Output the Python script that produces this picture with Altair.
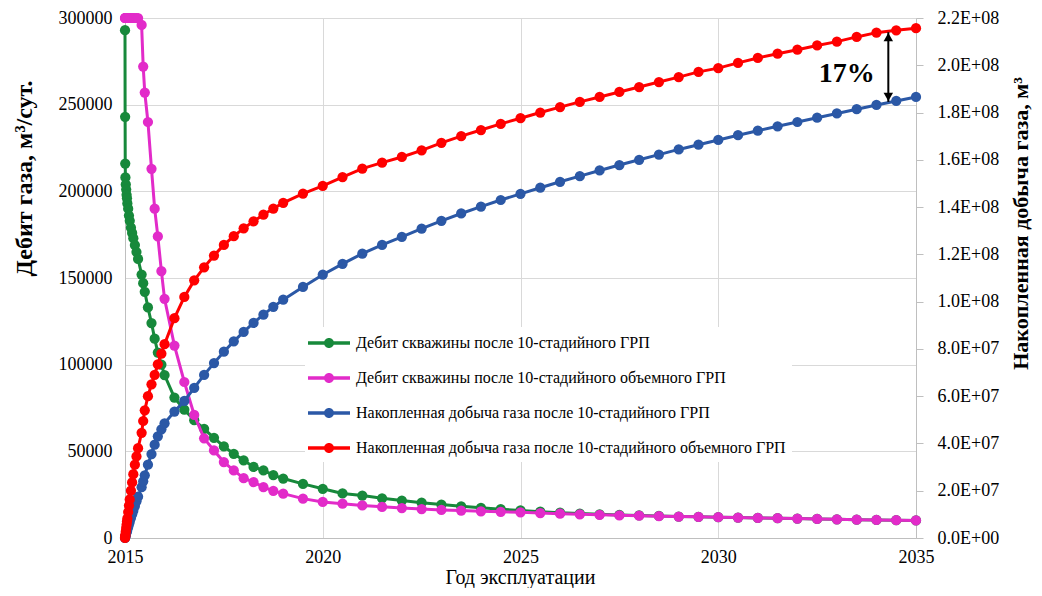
import altair as alt
import pandas as pd

# ---- data ----
T = [2015.000, 2015.003, 2015.006, 2015.01, 2015.02, 2015.03, 2015.04, 2015.05, 2015.06,
     2015.08, 2015.10, 2015.12, 2015.15, 2015.18, 2015.21, 2015.25, 2015.29, 2015.33,
     2015.42, 2015.46, 2015.50, 2015.58, 2015.67, 2015.75, 2015.83, 2015.92, 2016.00,
     2016.25, 2016.50, 2016.75, 2017.00, 2017.25, 2017.50, 2017.75, 2018.00, 2018.25,
     2018.50, 2018.75, 2019.00, 2019.5, 2020.0, 2020.5, 2021.0, 2021.5, 2022.0, 2022.5,
     2023.0, 2023.5, 2024.0, 2024.5, 2025.0, 2025.5, 2026.0, 2026.5, 2027.0, 2027.5,
     2028.0, 2028.5, 2029.0, 2029.5, 2030.0, 2030.5, 2031.0, 2031.5, 2032.0, 2032.5,
     2033.0, 2033.5, 2034.0, 2034.5, 2035.0]

RATE_10 = [293000, 243000, 216000, 208000, 204000, 201000, 198000, 196000, 193000,
           190000, 186000, 183000, 179000, 176000, 173000, 169000, 165000, 161000,
           152000, 147000, 142000, 133000, 124000, 115000, 107000, 100000, 94000,
           81000, 74000, 68000, 63000, 57800, 52800, 48600, 44800, 41000,
           39000, 36300, 34300, 31200, 28400, 25700, 24500, 22900, 21600, 20400,
           19300, 18300, 17400, 16600, 15900, 15200, 14600, 14100, 13700, 13300,
           13000, 12700, 12400, 12200, 12000, 11800, 11600, 11400, 11200, 11000,
           10800, 10600, 10400, 10300, 10100]

RATE_VOL = [300000, 300000, 300000, 300000, 300000, 300000, 300000, 300000, 300000,
            300000, 300000, 300000, 300000, 300000, 300000, 300000, 300000, 300000,
            296000, 272000, 257000, 240000, 213000, 190000, 174000, 154000, 138000,
            111000, 90000, 71000, 57500, 50500, 43800, 39000, 34500, 32300,
            29400, 27200, 25600, 22700, 20800, 19800, 18800, 18000, 17300, 16700,
            16200, 15800, 15400, 15100, 14800, 14400, 14000, 13700, 13400, 13100,
            12900, 12600, 12400, 12200, 12000, 11800, 11600, 11400, 11200, 11000,
            10800, 10600, 10400, 10300, 10100]

CUM_10 = [0, 2e5, 4e5, 7e5, 1.3e6, 1.9e6, 2.5e6, 3.0e6, 3.6e6,
          4.7e6, 5.8e6, 6.9e6, 8.5e6, 1.0e7, 1.15e7, 1.35e7, 1.55e7, 1.75e7,
          2.15e7, 2.4e7, 2.65e7, 3.1e7, 3.55e7, 3.95e7, 4.3e7, 4.6e7, 4.85e7,
          5.35e7, 5.8e7, 6.35e7, 6.9e7, 7.4e7, 7.88e7, 8.32e7, 8.72e7, 9.1e7,
          9.45e7, 9.78e7, 1.008e8, 1.062e8, 1.114e8, 1.16e8, 1.203e8, 1.24e8, 1.274e8, 1.309e8,
          1.342e8, 1.373e8, 1.402e8, 1.43e8, 1.456e8, 1.482e8, 1.507e8, 1.531e8, 1.555e8, 1.578e8,
          1.60e8, 1.622e8, 1.644e8, 1.664e8, 1.684e8, 1.704e8, 1.723e8, 1.742e8, 1.76e8, 1.778e8,
          1.796e8, 1.814e8, 1.832e8, 1.849e8, 1.866e8]

CUM_VOL = [0, 4e5, 8e5, 1.4e6, 2.8e6, 4.2e6, 5.6e6, 7.0e6, 8.3e6,
           1.1e7, 1.37e7, 1.63e7, 2.0e7, 2.35e7, 2.7e7, 3.1e7, 3.45e7, 3.8e7,
           4.45e7, 4.95e7, 5.4e7, 6.0e7, 6.5e7, 6.9e7, 7.35e7, 7.8e7, 8.2e7,
           9.3e7, 1.02e8, 1.09e8, 1.145e8, 1.195e8, 1.24e8, 1.277e8, 1.31e8, 1.34e8,
           1.368e8, 1.394e8, 1.418e8, 1.457e8, 1.49e8, 1.527e8, 1.563e8, 1.588e8, 1.612e8, 1.64e8,
           1.672e8, 1.70e8, 1.726e8, 1.752e8, 1.776e8, 1.80e8, 1.823e8, 1.845e8, 1.866e8, 1.887e8,
           1.908e8, 1.929e8, 1.95e8, 1.972e8, 1.988e8, 2.01e8, 2.031e8, 2.049e8, 2.066e8, 2.084e8,
           2.10e8, 2.12e8, 2.138e8, 2.148e8, 2.157e8]

NAMES = ["Дебит скважины после 10-стадийного ГРП",
         "Дебит скважины после 10-стадийного объемного ГРП",
         "Накопленная добыча газа после 10-стадийного ГРП",
         "Накопленная добыча газа после 10-стадийного объемного ГРП"]
COLORS = ["#17893b", "#e22bc9", "#2b58a6", "#ff0000"]

X_TICKS = [2015, 2020, 2025, 2030, 2035]
LEFT_TICKS = [0, 50000, 100000, 150000, 200000, 250000, 300000]
RIGHT_TICKS = [0, 2e7, 4e7, 6e7, 8e7, 1e8, 1.2e8, 1.4e8, 1.6e8, 1.8e8, 2.0e8, 2.2e8]

# annotation: arrow between the two cumulative curves, and its label
ARROW_T = [2034.3]
ARROW_TOP = [2.14e8]
ARROW_BOTTOM = [1.845e8]
LABEL_T = [2033.25]
LABEL_V = [1.965e8]
LABEL_TEXT = ["17%"]

SERIF = "Liberation Serif"

# ---- encodings ----
x_scale = alt.Scale(domain=[2015, 2035], nice=False, zero=False)
x_enc = alt.X("t:Q", scale=x_scale,
              axis=alt.Axis(values=X_TICKS, format="d", title="Год эксплуатации",
                            grid=True, ticks=False, labelPadding=10, labelFlush=False,
                            titleFontWeight="normal", titleFontSize=20,
                            titleX=395, titleY=39, titleBaseline="middle", titleAlign="center"))

left_scale = alt.Scale(domain=[0, 300000], nice=False)
left_y = alt.Y("v:Q", scale=left_scale,
               axis=alt.Axis(orient="left", values=LEFT_TICKS, format="d", grid=True,
                             ticks=False, labelPadding=13, labelFlush=False,
                             title="Дебит газа, м³/сут.", titleFontWeight="bold", titleFontSize=24,
                             titleAngle=270, titleX=-101, titleY=160,
                             titleAlign="center", titleBaseline="middle"))

right_scale = alt.Scale(domain=[0, 2.2e8], nice=False)
label_expr = ("datum.value == 0 ? '0.0E+00' : "
              "format(datum.value / pow(10, floor(log(datum.value) / LN10 + 1e-9)), '.1f')"
              " + 'E+0' + floor(log(datum.value) / LN10 + 1e-9)")
right_axis = alt.Axis(orient="right", values=RIGHT_TICKS, labelExpr=label_expr, grid=False,
                      ticks=True, tickSize=7, labelPadding=14, labelFlush=False,
                      title="Накопленная добыча газа, м³", titleFontWeight="bold",
                      titleFontSize=22, titleAngle=270, titleX=104, titleY=205,
                      titleAlign="center", titleBaseline="middle")
right_y = alt.Y("v:Q", scale=right_scale, axis=right_axis)

legend_symbol = ("M-2.1,-0.17 L2.1,-0.17 L2.1,0.17 L-2.1,0.17 Z "
                 "M0.5,0 A0.5,0.5 0 1,1 -0.5,0 A0.5,0.5 0 1,1 0.5,0 Z")
color_enc = alt.Color("series:N",
                      scale=alt.Scale(domain=NAMES, range=COLORS),
                      legend=alt.Legend(title=None, orient="none", legendX=180, legendY=309,
                                        symbolType=legend_symbol, symbolSize=400,
                                        symbolStrokeWidth=0, symbolOffset=8,
                                        labelFont=SERIF, labelFontSize=16, labelColor="black",
                                        labelLimit=700, labelOffset=17,
                                        fillColor="white", padding=6, rowPadding=17))


def series_layers(values, idx, yenc):
    df = pd.DataFrame({"t": T, "v": values, "series": NAMES[idx]})
    line = alt.Chart(df).mark_line(color=COLORS[idx], strokeWidth=3).encode(x=x_enc, y=yenc)
    pts = alt.Chart(df).mark_circle(size=105, opacity=1).encode(x=x_enc, y=yenc, color=color_enc)
    return [line, pts]


left_group = alt.layer(*(series_layers(RATE_10, 0, left_y) + series_layers(RATE_VOL, 1, left_y)))

ann = pd.DataFrame({"t": ARROW_T, "v": ARROW_TOP, "v2": ARROW_BOTTOM})
ann_bottom = pd.DataFrame({"t": ARROW_T, "v": ARROW_BOTTOM})
lab = pd.DataFrame({"t": LABEL_T, "v": LABEL_V, "txt": LABEL_TEXT})

arrow = alt.Chart(ann).mark_rule(color="black", strokeWidth=2).encode(
    x=x_enc, y=right_y, y2="v2:Q")
head_top = alt.Chart(ann).mark_point(shape="triangle-up", filled=True, color="black",
                                     size=90, opacity=1, yOffset=5).encode(x=x_enc, y=right_y)
head_bot = alt.Chart(ann_bottom).mark_point(shape="triangle-down", filled=True, color="black",
                                            size=90, opacity=1, yOffset=-5).encode(x=x_enc, y=right_y)
text = alt.Chart(lab).mark_text(font=SERIF, fontWeight="bold", fontSize=28, color="black").encode(
    x=x_enc, y=right_y, text="txt:N")

right_group = alt.layer(*(series_layers(CUM_10, 2, right_y) + series_layers(CUM_VOL, 3, right_y)
                          + [arrow, head_top, head_bot, text]))

chart = alt.layer(left_group, right_group).resolve_scale(y="independent").properties(
    width=791, height=520,
    autosize=alt.AutoSizeParams(type="none"),
    padding={"left": 117, "top": 10, "right": 118, "bottom": 50},
).configure_axis(
    labelFont=SERIF, labelFontSize=18, labelColor="black",
    titleFont=SERIF, titleColor="black",
    domainColor="#bfbfbf", gridColor="#d9d9d9", tickColor="#bfbfbf",
).configure_view(stroke=None)

chart.save("out.html", embed_options={"renderer": "svg", "actions": False})
